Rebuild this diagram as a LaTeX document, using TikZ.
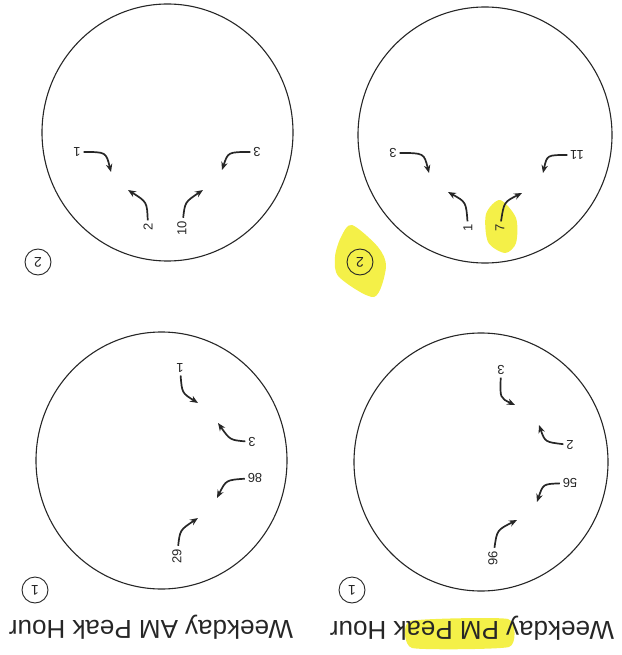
\documentclass[tikz,border=0pt]{standalone}
\usepackage{fontspec}
\setmainfont{Liberation Sans}
\usetikzlibrary{arrows.meta}
\definecolor{inkgray}{HTML}{262626}
\definecolor{hiliteyellow}{HTML}{F4F048}

\begin{document}
\begin{tikzpicture}[x=1pt,y=-1pt,>={Stealth[length=8pt,width=6.5pt]},
  ring/.style={draw=inkgray,line width=1.1pt},
  turn/.style={->,draw=inkgray,line width=1.7pt},
  vol/.style={font=\fontsize{13}{13}\selectfont,inner sep=0pt,outer sep=3pt,text=inkgray},
  zonetag/.style={circle,draw=inkgray,line width=0.9pt,minimum size=26pt,inner sep=0pt,
    font=\fontsize{14}{14}\selectfont,text=inkgray,rotate=180},
  peaktitle/.style={font=\fontsize{26}{26}\selectfont,inner sep=0pt,text=inkgray,rotate=180}]
  \useasboundingbox (0,0) rectangle (621,655);

  \fill[hiliteyellow] plot[smooth cycle] coordinates
    {(352,225) (378,247) (386,267) (374,297) (339,277) (335,257) (341,237)};
  \fill[hiliteyellow] plot[smooth cycle] coordinates
    {(500,200) (516,218) (516,243) (505,253) (488,242) (486,214)};
  \fill[hiliteyellow] plot[smooth cycle,tension=0.3] coordinates
    {(410,621) (508,619) (509,647) (412,648)};

  \draw[ring] (167.5,132.5) ellipse [x radius=125.5,y radius=128.5];
  \node[vol,rotate=180] (am2-a) at (77,152) {1};
  \node[vol,rotate=180] (am2-b) at (257,152) {3};
  \node[vol,rotate=90] (am2-c) at (148,227) {2};
  \node[vol,rotate=90] (am2-d) at (182,228) {10};
  \coordinate (am2-ah) at (111,172);
  \coordinate (am2-bh) at (222,170);
  \coordinate (am2-ch) at (128,190);
  \coordinate (am2-dh) at (203,190);
  \draw[turn] (am2-a) .. controls (106,152) .. (am2-ah);
  \draw[turn] (am2-b) .. controls (228,152) .. (am2-bh);
  \draw[turn] (am2-c) .. controls (147,202) .. (am2-ch);
  \draw[turn] (am2-d) .. controls (185,202) .. (am2-dh);
  \node[zonetag] (am2-tag) at (38,262) {2};

  \draw[ring] (485,135) ellipse [x radius=127,y radius=128];
  \node[vol,rotate=180] (pm2-a) at (393,153) {3};
  \node[vol,rotate=180] (pm2-b) at (577,155) {11};
  \node[vol,rotate=90] (pm2-c) at (468,228) {1};
  \node[vol,rotate=90] (pm2-d) at (500,228) {7};
  \coordinate (pm2-ah) at (429,173);
  \coordinate (pm2-bh) at (543,173);
  \coordinate (pm2-ch) at (448,192);
  \coordinate (pm2-dh) at (522,193);
  \draw[turn] (pm2-a) .. controls (424,153) .. (pm2-ah);
  \draw[turn] (pm2-b) .. controls (547,155) .. (pm2-bh);
  \draw[turn] (pm2-c) .. controls (466,202) .. (pm2-ch);
  \draw[turn] (pm2-d) .. controls (504,202) .. (pm2-dh);
  \node[zonetag] (pm2-tag) at (360,262) {2};

  \draw[ring] (161.5,460.5) ellipse [x radius=125.5,y radius=128.5];
  \node[vol,rotate=180] (am1-a) at (180,368) {1};
  \node[vol,rotate=180] (am1-b) at (252,442) {3};
  \node[vol,rotate=180] (am1-c) at (255,478) {86};
  \node[vol,rotate=90] (am1-d) at (177,556) {29};
  \coordinate (am1-ah) at (198,403);
  \coordinate (am1-bh) at (218,423);
  \coordinate (am1-ch) at (217,498);
  \coordinate (am1-dh) at (198,518);
  \draw[turn] (am1-a) .. controls (182,393) .. (am1-ah);
  \draw[turn] (am1-b) .. controls (230,440) .. (am1-bh);
  \draw[turn] (am1-c) .. controls (226,480) .. (am1-ch);
  \draw[turn] (am1-d) .. controls (180,530) .. (am1-dh);
  \node[zonetag] (am1-tag) at (35,590) {1};

  \draw[ring] (481,462) ellipse [x radius=127,y radius=129];
  \node[vol,rotate=180] (pm1-a) at (501,370) {3};
  \node[vol,rotate=180] (pm1-b) at (570,445) {2};
  \node[vol,rotate=180] (pm1-c) at (570,483) {56};
  \node[vol,rotate=90] (pm1-d) at (493,558) {96};
  \coordinate (pm1-ah) at (515,405);
  \coordinate (pm1-bh) at (539,425);
  \coordinate (pm1-ch) at (537,502);
  \coordinate (pm1-dh) at (517,520);
  \draw[turn] (pm1-a) .. controls (500,398) .. (pm1-ah);
  \draw[turn] (pm1-b) .. controls (545,442) .. (pm1-bh);
  \draw[turn] (pm1-c) .. controls (543,484) .. (pm1-ch);
  \draw[turn] (pm1-d) .. controls (497,530) .. (pm1-dh);
  \node[zonetag] (pm1-tag) at (352,590) {1};

  \node[peaktitle] (am-title) at (151,627) {Weekday AM Peak Hour};
  \node[peaktitle] (pm-title) at (472,628) {Weekday PM Peak Hour};
\end{tikzpicture}
\end{document}
